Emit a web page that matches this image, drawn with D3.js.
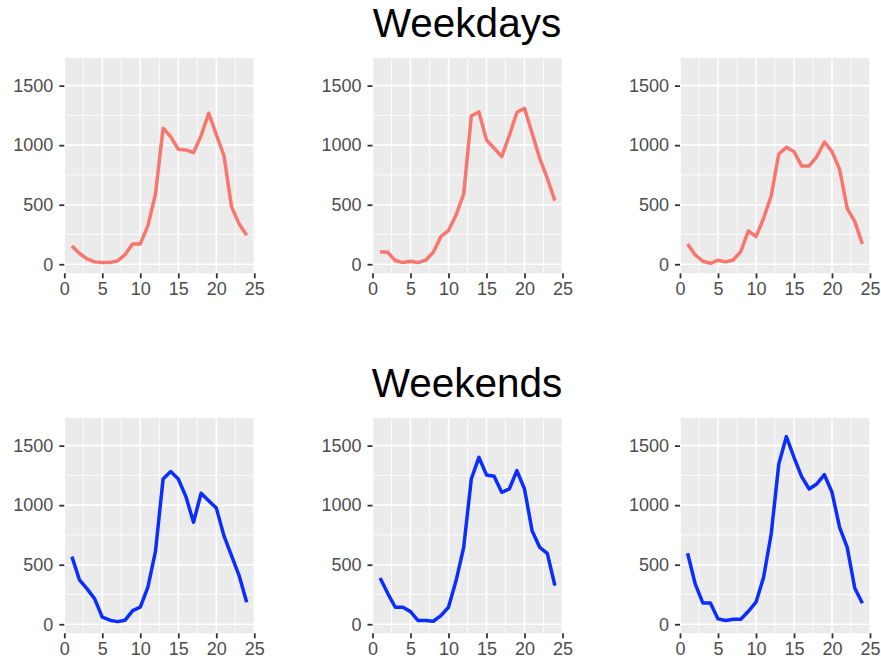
<!DOCTYPE html>
<html>
<head>
<meta charset="utf-8">
<script src="https://cdn.jsdelivr.net/npm/d3@7"></script>
<style>
  html, body { margin: 0; padding: 0; background: #ffffff; }
  svg { display: block; }
</style>
</head>
<body>
<svg id="chart" width="881" height="664"></svg>
<script>
// Hour of day (1..24)
const hours = d3.range(1, 25);

// Hourly counts, weekdays
const weekday1 = [154, 90, 45, 20, 14, 14, 28, 81, 171, 171, 325, 590, 1142, 1072, 965, 960, 937, 1080, 1268, 1089, 915, 484, 339, 243];
const weekday2 = [104, 101, 31, 14, 25, 14, 34, 101, 232, 283, 414, 590, 1245, 1279, 1044, 974, 904, 1080, 1276, 1310, 1100, 890, 722, 534];
const weekday3 = [171, 78, 25, 8, 34, 20, 36, 106, 280, 232, 386, 574, 926, 982, 946, 826, 826, 904, 1027, 946, 798, 470, 358, 171];

// Hourly counts, weekends
const weekend1 = [568, 372, 297, 213, 59, 34, 22, 34, 115, 143, 311, 613, 1220, 1282, 1220, 1072, 856, 1100, 1038, 977, 744, 576, 409, 185];
const weekend2 = [389, 260, 143, 143, 106, 31, 31, 25, 73, 143, 367, 646, 1220, 1402, 1254, 1243, 1108, 1136, 1290, 1136, 786, 646, 596, 325];
const weekend3 = [596, 339, 179, 179, 45, 31, 42, 42, 109, 185, 395, 758, 1346, 1576, 1402, 1240, 1136, 1178, 1256, 1108, 814, 646, 302, 176];

// Axis ticks
const xTicks = [0, 5, 10, 15, 20, 25];
const xMinor = [2.5, 7.5, 12.5, 17.5, 22.5];
const yTicks = [0, 500, 1000, 1500];
const yMinor = [250, 750, 1250];

const rowTitles = ["Weekdays", "Weekends"];
const rowColors = ["#F8766D", "#0a2eff"];
const rows = [[weekday1, weekday2, weekday3], [weekend1, weekend2, weekend3]];

const svg = d3.select("#chart");

const panelLefts = [64.3, 372.5, 680];
const panelW = 190;
const panelTops = [58, 418];
const panelH = 215.3;

const x = d3.scaleLinear().domain([0, 25]).range([0, panelW]);
const y = d3.scaleLinear().domain([-76, 1732]).range([panelH, 0]);

const font = "'Liberation Sans', Arial, Helvetica, sans-serif";

rows.forEach((series, r) => {
  // row title
  svg.append("text")
    .attr("x", 467)
    .attr("y", panelTops[r] - 21)
    .attr("text-anchor", "middle")
    .attr("font-family", font)
    .attr("font-size", 40.5)
    .attr("fill", "#000000")
    .text(rowTitles[r]);

  series.forEach((values, c) => {
    const g = svg.append("g")
      .attr("transform", `translate(${panelLefts[c]},${panelTops[r]})`);

    // panel background
    g.append("rect")
      .attr("width", panelW).attr("height", panelH)
      .attr("fill", "#EBEBEB");

    // minor grid
    g.selectAll(".vminor").data(xMinor).join("line")
      .attr("x1", d => x(d)).attr("x2", d => x(d))
      .attr("y1", 0).attr("y2", panelH)
      .attr("stroke", "#ffffff").attr("stroke-width", 0.8);
    g.selectAll(".hminor").data(yMinor).join("line")
      .attr("y1", d => y(d)).attr("y2", d => y(d))
      .attr("x1", 0).attr("x2", panelW)
      .attr("stroke", "#ffffff").attr("stroke-width", 0.8);

    // major grid
    g.selectAll(".vmajor").data(xTicks).join("line")
      .attr("x1", d => x(d)).attr("x2", d => x(d))
      .attr("y1", 0).attr("y2", panelH)
      .attr("stroke", "#ffffff").attr("stroke-width", 1.6);
    g.selectAll(".hmajor").data(yTicks).join("line")
      .attr("y1", d => y(d)).attr("y2", d => y(d))
      .attr("x1", 0).attr("x2", panelW)
      .attr("stroke", "#ffffff").attr("stroke-width", 1.6);

    // line
    const line = d3.line()
      .x((d, i) => x(hours[i]))
      .y(d => y(d));
    g.append("path")
      .datum(values)
      .attr("d", line)
      .attr("fill", "none")
      .attr("stroke", rowColors[r])
      .attr("stroke-width", 3.5)
      .attr("stroke-linejoin", "round")
      .attr("stroke-linecap", "butt");

    // x axis
    const xa = g.append("g")
      .attr("transform", `translate(0,${panelH})`)
      .call(d3.axisBottom(x).tickValues(xTicks).tickSize(5).tickPadding(4).tickFormat(d3.format("d")));
    xa.select(".domain").remove();
    xa.selectAll(".tick line").attr("stroke", "#333333").attr("stroke-width", 1.8);
    xa.selectAll(".tick text")
      .attr("font-family", font).attr("font-size", 18).attr("fill", "#4D4D4D");

    // y axis
    const ya = g.append("g")
      .call(d3.axisLeft(y).tickValues(yTicks).tickSize(5).tickPadding(6).tickFormat(d3.format("d")));
    ya.select(".domain").remove();
    ya.selectAll(".tick line").attr("stroke", "#333333").attr("stroke-width", 1.8);
    ya.selectAll(".tick text")
      .attr("font-family", font).attr("font-size", 18).attr("fill", "#4D4D4D");
  });
});
</script>
</body>
</html>
